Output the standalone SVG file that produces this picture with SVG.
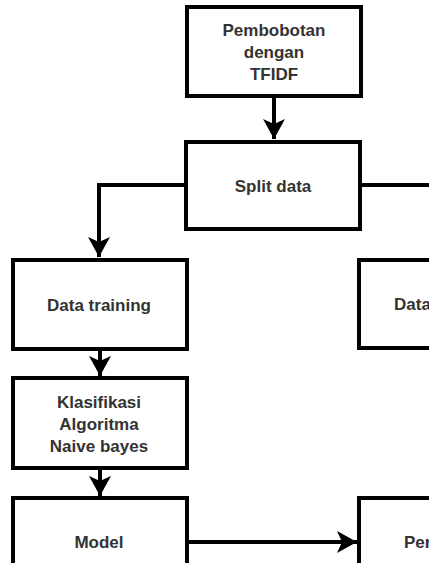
<svg xmlns="http://www.w3.org/2000/svg" width="429" height="563" viewBox="0 0 429 563">
<style>
.box{fill:#fff;stroke:#000;stroke-width:4}
.t{font-family:"Liberation Sans",Arial,sans-serif;font-size:17px;font-weight:bold;fill:#333;text-anchor:middle}
.ts{font-family:"Liberation Sans",Arial,sans-serif;font-size:17px;font-weight:bold;fill:#333}
.c{fill:none;stroke:#000;stroke-width:4}
</style>
<defs>
<marker id="ah" markerUnits="userSpaceOnUse" markerWidth="22" markerHeight="22" viewBox="0 0 22 22" refX="20" refY="11" orient="auto">
<path d="M0,0 L20,11 L0,22 L5,11 Z" fill="#000"/>
</marker>
</defs>
<rect width="429" height="563" fill="#fff"/>
<g id="connectors">
<path class="c" d="M274,96 V139" marker-end="url(#ah)"/>
<path class="c" d="M186,185 H99 V257" marker-end="url(#ah)"/>
<path class="c" d="M360,185 H440"/>
<path class="c" d="M100,349 V376" marker-end="url(#ah)"/>
<path class="c" d="M100,468 V496" marker-end="url(#ah)"/>
<path class="c" d="M187,542 H357" marker-end="url(#ah)"/>
</g>
<g id="n-tfidf">
<rect class="box" x="187" y="7" width="174" height="89"/>
<text class="t" x="274" y="36">Pembobotan</text>
<text class="t" x="274" y="58">dengan</text>
<text class="t" x="274" y="80">TFIDF</text>
</g>
<g id="n-split">
<rect class="box" x="186" y="142" width="174" height="87"/>
<text class="t" x="273" y="192">Split data</text>
</g>
<g id="n-training">
<rect class="box" x="13" y="260" width="174" height="89"/>
<text class="t" x="99" y="311">Data training</text>
</g>
<g id="n-testing">
<rect class="box" x="359" y="260" width="200" height="88"/>
<text class="ts" x="394" y="310">Data</text>
</g>
<g id="n-nb">
<rect class="box" x="13" y="378" width="174" height="90"/>
<text class="t" x="99" y="408">Klasifikasi</text>
<text class="t" x="99" y="430">Algoritma</text>
<text class="t" x="99" y="452">Naive bayes</text>
</g>
<g id="n-model">
<rect class="box" x="13" y="498" width="174" height="120"/>
<text class="t" x="99" y="548">Model</text>
</g>
<g id="n-per">
<rect class="box" x="359" y="498" width="200" height="120"/>
<text class="ts" x="404" y="548">Per</text>
</g>
</svg>
